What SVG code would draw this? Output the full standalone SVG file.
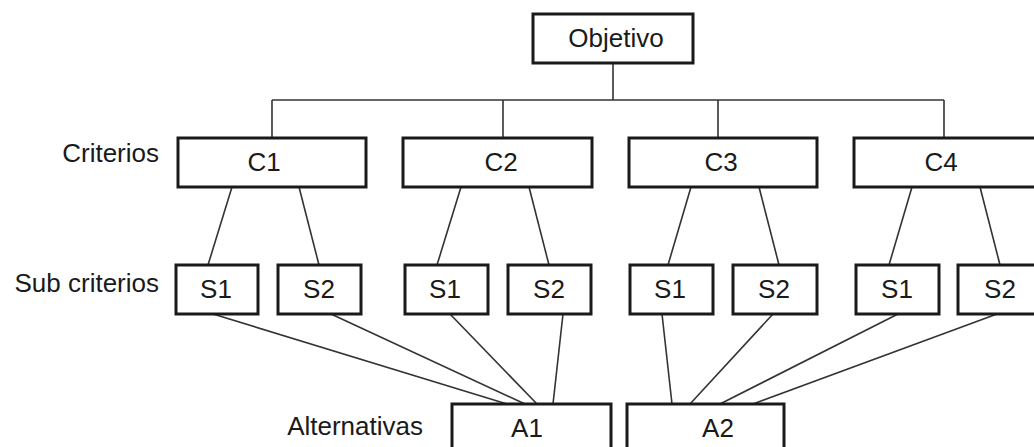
<svg xmlns="http://www.w3.org/2000/svg" width="1034" height="447" viewBox="0 0 1034 447">
  <style>
    .box { fill: #ffffff; stroke: #1a1a1a; stroke-width: 3; }
    .lbl { font-family: "Liberation Sans", Arial, sans-serif; font-size: 26px; fill: #1a1a1a; text-anchor: middle; }
    .side { font-family: "Liberation Sans", Arial, sans-serif; font-size: 26px; fill: #1a1a1a; text-anchor: end; }
    .wire { stroke: #333333; stroke-width: 1.6; fill: none; }
  </style>
  <rect x="0" y="0" width="1034" height="447" fill="#ffffff"/>

  <!-- level labels -->
  <text class="side" x="159" y="162">Criterios</text>
  <text class="side" x="159" y="292">Sub criterios</text>
  <text class="side" x="423" y="435">Alternativas</text>

  <!-- connectors -->
  <g id="connectors">
    <line class="wire" x1="613" y1="63" x2="613" y2="100"/>
    <line class="wire" x1="272" y1="100" x2="944" y2="100"/>
    <line class="wire" x1="272" y1="100" x2="272" y2="138"/>
    <line class="wire" x1="503" y1="100" x2="503" y2="138"/>
    <line class="wire" x1="718" y1="100" x2="718" y2="138"/>
    <line class="wire" x1="944" y1="100" x2="944" y2="138"/>

    <line class="wire" x1="232" y1="187" x2="208" y2="265"/>
    <line class="wire" x1="299" y1="187" x2="319" y2="265"/>
    <line class="wire" x1="461" y1="187" x2="437" y2="265"/>
    <line class="wire" x1="529" y1="187" x2="549" y2="265"/>
    <line class="wire" x1="691" y1="187" x2="668" y2="265"/>
    <line class="wire" x1="759" y1="187" x2="779" y2="265"/>
    <line class="wire" x1="912" y1="187" x2="889" y2="265"/>
    <line class="wire" x1="980" y1="187" x2="1000" y2="265"/>

    <line class="wire" x1="213" y1="314" x2="507" y2="404"/>
    <line class="wire" x1="331" y1="314" x2="525" y2="404"/>
    <line class="wire" x1="450" y1="314" x2="537" y2="404"/>
    <line class="wire" x1="563" y1="314" x2="553" y2="404"/>

    <line class="wire" x1="662" y1="314" x2="672" y2="404"/>
    <line class="wire" x1="773" y1="314" x2="690" y2="404"/>
    <line class="wire" x1="898" y1="314" x2="720" y2="404"/>
    <line class="wire" x1="997" y1="314" x2="753" y2="404"/>
  </g>

  <!-- goal -->
  <g id="objetivo">
    <rect class="box" x="533" y="14" width="160" height="49"/>
    <text class="lbl" x="616" y="47">Objetivo</text>
  </g>

  <!-- criteria -->
  <g id="c1">
    <rect class="box" x="178" y="138" width="188" height="49"/>
    <text class="lbl" x="264" y="171">C1</text>
  </g>
  <g id="c2">
    <rect class="box" x="403" y="138" width="189" height="49"/>
    <text class="lbl" x="501" y="171">C2</text>
  </g>
  <g id="c3">
    <rect class="box" x="629" y="138" width="188" height="49"/>
    <text class="lbl" x="721" y="171">C3</text>
  </g>
  <g id="c4">
    <rect class="box" x="854" y="138" width="184" height="49"/>
    <text class="lbl" x="941" y="171">C4</text>
  </g>

  <!-- sub-criteria -->
  <g id="c1-s1">
    <rect class="box" x="176" y="265" width="82" height="49"/>
    <text class="lbl" x="216" y="298">S1</text>
  </g>
  <g id="c1-s2">
    <rect class="box" x="278" y="265" width="83" height="49"/>
    <text class="lbl" x="319" y="298">S2</text>
  </g>
  <g id="c2-s1">
    <rect class="box" x="405" y="265" width="83" height="49"/>
    <text class="lbl" x="445" y="298">S1</text>
  </g>
  <g id="c2-s2">
    <rect class="box" x="508" y="265" width="83" height="49"/>
    <text class="lbl" x="549" y="298">S2</text>
  </g>
  <g id="c3-s1">
    <rect class="box" x="630" y="265" width="83" height="49"/>
    <text class="lbl" x="670" y="298">S1</text>
  </g>
  <g id="c3-s2">
    <rect class="box" x="733" y="265" width="84" height="49"/>
    <text class="lbl" x="774" y="298">S2</text>
  </g>
  <g id="c4-s1">
    <rect class="box" x="856" y="265" width="83" height="49"/>
    <text class="lbl" x="897" y="298">S1</text>
  </g>
  <g id="c4-s2">
    <rect class="box" x="958" y="265" width="83" height="49"/>
    <text class="lbl" x="1000" y="298">S2</text>
  </g>

  <!-- alternatives -->
  <g id="a1">
    <rect class="box" x="452" y="404" width="159" height="60"/>
    <text class="lbl" x="527" y="437">A1</text>
  </g>
  <g id="a2">
    <rect class="box" x="627" y="404" width="157" height="60"/>
    <text class="lbl" x="718" y="437">A2</text>
  </g>
</svg>
